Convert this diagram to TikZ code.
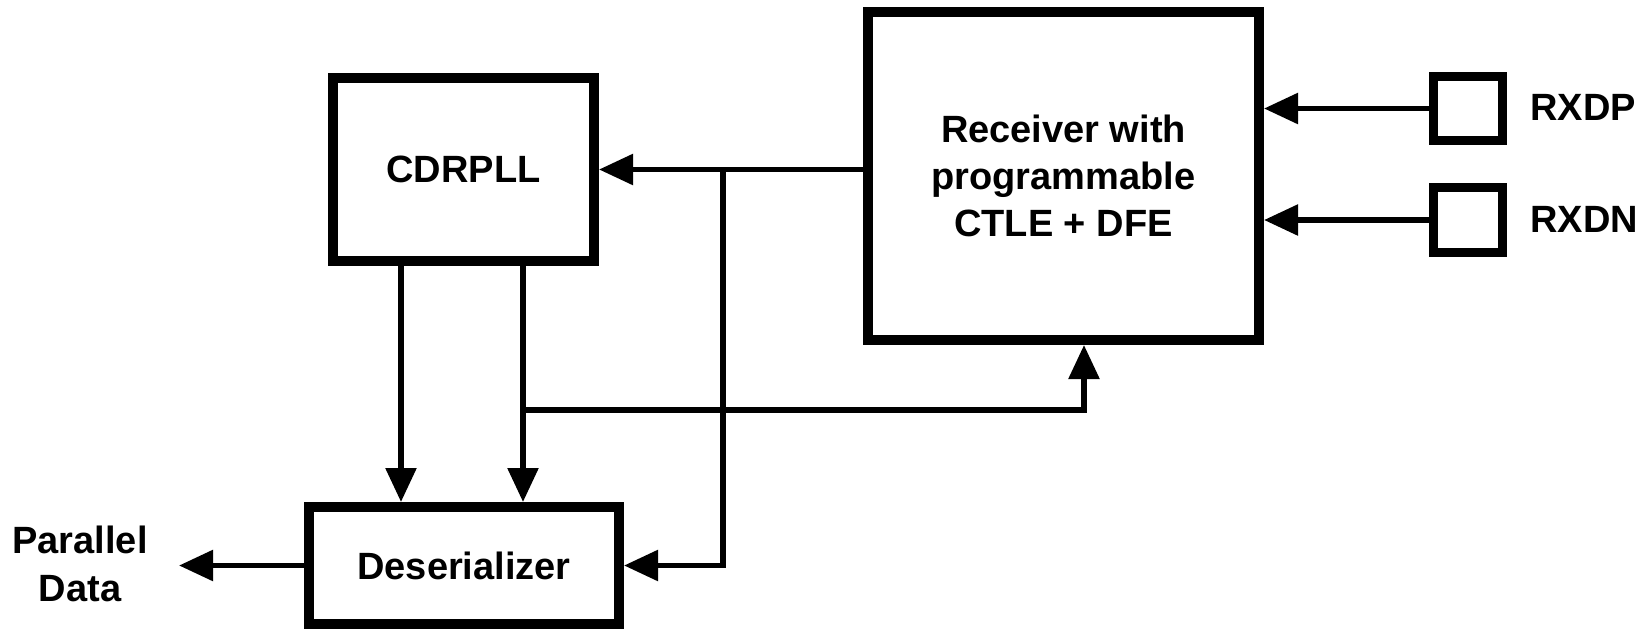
\documentclass[tikz,border=0pt]{standalone}
\usepackage{fontspec}
\setmainfont{Liberation Sans}
\usetikzlibrary{arrows.meta}
\begin{document}
\begin{tikzpicture}[x=0.75pt,y=-0.75pt,
  blk/.style={draw, line width=7.5pt, inner sep=0pt, align=center,
    font=\fontsize{28.5}{35.25}\selectfont\bfseries},
  padbox/.style={draw, line width=6.75pt, inner sep=0pt},
  arr/.style={line width=4.2pt, -{Triangle[length=25.5pt,width=22.5pt]}},
  wire/.style={line width=4.2pt},
  lbl/.style={inner sep=0pt, align=center,
    font=\fontsize{28.5}{36.5}\selectfont\bfseries}]
\useasboundingbox (0,0) rectangle (1649,629);

% blocks
\node[blk, minimum width=195.75pt, minimum height=137.25pt] (cdr) at (463.5,169.5) {CDRPLL};
\node[blk, minimum width=293.25pt, minimum height=246pt] (rx) at (1063.5,176)
  {Receiver with\\programmable\\CTLE + DFE};
\node[blk, minimum width=232.5pt, minimum height=87.75pt] (des) at (464,565.5) {Deserializer};

% pads
\node[padbox, minimum width=51.75pt, minimum height=48pt] (rxdp) at (1468,108.5) {};
\node[padbox, minimum width=51.75pt, minimum height=48.75pt] (rxdn) at (1468,220) {};
\node[lbl, anchor=west] (lp) at (1530,107) {RXDP};
\node[lbl, anchor=west] (ln) at (1530,219) {RXDN};

\node[lbl] (pd) at (80,564) {Parallel\\Data};

% helper coordinates
\coordinate (xa) at (401,0);
\coordinate (xb) at (523,0);
\coordinate (xr) at (1084,0);
\coordinate (j1) at (723,169.5);
\coordinate (j2) at (523,410);
\coordinate (pdtip) at (179,0);

% connectors
\draw[arr] (rx.west |- cdr.east) -- (cdr.east);
\draw[arr] (j1) |- (des.east);
\draw[arr] (cdr.south -| xa) -- (des.north -| xa);
\draw[arr] (cdr.south -| xb) -- (des.north -| xb);
\draw[arr] (j2) -| (rx.south -| xr);
\draw[arr] (rxdp.west) -- (rx.east |- rxdp.west);
\draw[arr] (rxdn.west) -- (rx.east |- rxdn.west);
\draw[arr] (des.west) -- (des.west -| pdtip);
\end{tikzpicture}
\end{document}
